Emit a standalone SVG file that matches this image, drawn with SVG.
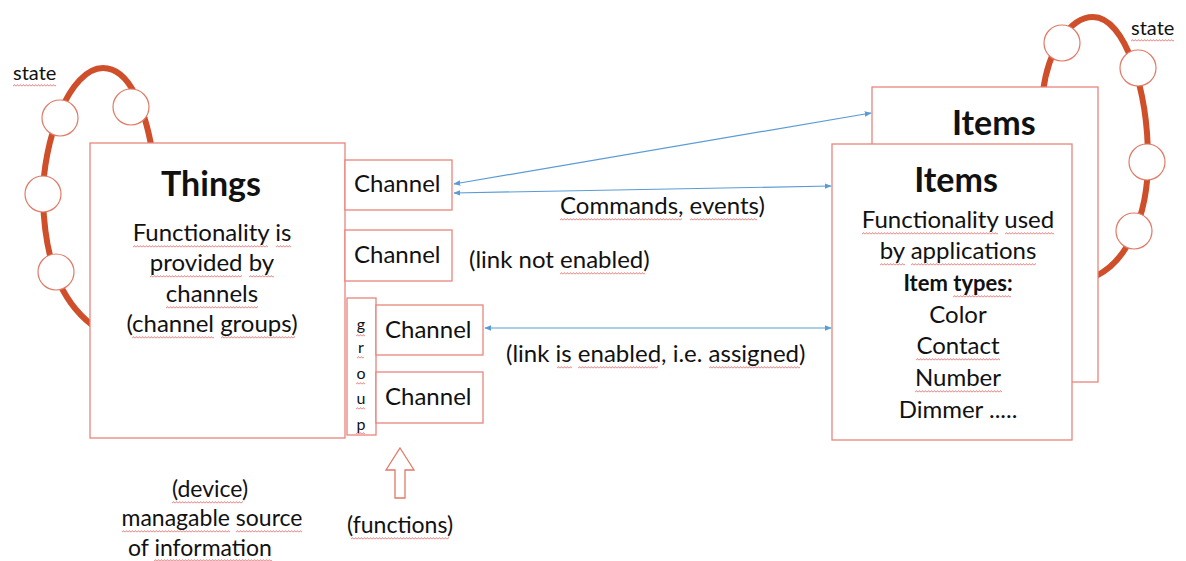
<svg xmlns="http://www.w3.org/2000/svg" width="1186" height="561" viewBox="0 0 1186 561">
  <defs>
    <style>
      text { font-family: Lato, "Liberation Sans", sans-serif; fill: #111; }
      .t { font-size: 24px; }
      .c { text-anchor: middle; }
      .h { font-size: 34px; font-weight: bold; }
      .sq { fill: url(#wavy); }
      .box { fill: #fff; stroke: #e8857a; stroke-width: 1.3; }
      .loop { fill: none; stroke: #cf4f2b; stroke-width: 6; stroke-linecap: round; }
      .dot { fill: #fff; stroke: #e07a66; stroke-width: 1.2; }
      .link { fill: none; stroke: #5b9bd5; stroke-width: 1.2; marker-start: url(#ah); marker-end: url(#ah); }
    </style>
    <marker id="ah" viewBox="0 0 10 10" refX="9" refY="5" markerWidth="7" markerHeight="7" orient="auto-start-reverse" markerUnits="userSpaceOnUse">
      <path d="M0 1 L10 5 L0 9 Z" fill="#5b9bd5"/>
    </marker>
    <!-- zigzag tile for the squiggly word underlines -->
    <pattern id="wavy" width="3" height="3" patternUnits="userSpaceOnUse">
      <path d="M0 2.4 L1.5 0.6 L3 2.4" fill="none" stroke="#e06060" stroke-width="0.8"/>
    </pattern>
  </defs>

  <!-- state loop around Things -->
  <g id="things-state">
    <path class="loop" d="M92 325 C60 300 45 260 43 200 C42 140 70 68 103 68 C130 68 145 110 152 150"/>
    <circle class="dot" cx="60" cy="118" r="18"/>
    <circle class="dot" cx="131" cy="107" r="18"/>
    <circle class="dot" cx="43" cy="194" r="18"/>
    <circle class="dot" cx="56" cy="272" r="18"/>
    <text x="13" y="80" style="font-size:20px">state</text>
    <rect class="sq" transform="translate(13 84)" width="43" height="3"/>
  </g>

  <!-- state loop around Items -->
  <g id="items-state">
    <path class="loop" d="M1043 92 C1048 50 1070 17 1093 17 C1125 17 1148 90 1148 160 C1148 220 1125 262 1096 276"/>
    <circle class="dot" cx="1062" cy="43" r="18"/>
    <circle class="dot" cx="1138" cy="68" r="18"/>
    <circle class="dot" cx="1147" cy="162" r="18"/>
    <circle class="dot" cx="1134" cy="231" r="18"/>
    <text x="1131" y="35" style="font-size:20px">state</text>
    <rect class="sq" transform="translate(1131 39)" width="43" height="3"/>
  </g>

  <!-- Things -->
  <g id="things">
    <rect class="box" x="90" y="143" width="255" height="295"/>
    <text class="h c" x="211" y="196">Things</text>
    <text class="t c" x="212" y="241">Functionality is</text>
    <text class="t c" x="212" y="271">provided by</text>
    <text class="t c" x="212" y="302">channels</text>
    <text class="t c" x="212" y="332">(channel groups)</text>
    <rect class="sq" transform="translate(133 245)" width="135" height="3"/>
    <rect class="sq" transform="translate(276 245)" width="15" height="3"/>
    <rect class="sq" transform="translate(150 275)" width="92" height="3"/>
    <rect class="sq" transform="translate(249 275)" width="25" height="3"/>
    <rect class="sq" transform="translate(166 306)" width="92" height="3"/>
    <rect class="sq" transform="translate(132 336)" width="82" height="3"/>
    <rect class="sq" transform="translate(221 336)" width="74" height="3"/>
  </g>

  <g id="channel-1">
    <rect class="box" x="345" y="160" width="107" height="50"/>
    <text class="t" x="354" y="192">Channel</text>
  </g>
  <g id="channel-2">
    <rect class="box" x="345" y="230" width="107" height="51"/>
    <text class="t" x="354" y="263">Channel</text>
  </g>
  <g id="group">
    <rect class="box" x="347" y="298" width="29" height="137"/>
    <text class="c" x="361" y="330" style="font-size:16px">g</text>
    <text class="c" x="361" y="353" style="font-size:16px">r</text>
    <text class="c" x="361" y="379" style="font-size:16px">o</text>
    <text class="c" x="361" y="404" style="font-size:16px">u</text>
    <text class="c" x="361" y="430" style="font-size:16px">p</text>
    <rect class="sq" transform="translate(356 334)" width="9" height="3"/>
    <rect class="sq" transform="translate(357 356)" width="7" height="3"/>
    <rect class="sq" transform="translate(356 382)" width="9" height="3"/>
    <rect class="sq" transform="translate(356 407)" width="9" height="3"/>
    <rect class="sq" transform="translate(356 432)" width="9" height="2"/>
  </g>
  <g id="channel-3">
    <rect class="box" x="376" y="305" width="107" height="50"/>
    <text class="t" x="385" y="338">Channel</text>
  </g>
  <g id="channel-4">
    <rect class="box" x="376" y="372" width="107" height="51"/>
    <text class="t" x="385" y="405">Channel</text>
  </g>

  <!-- Items (stacked) -->
  <g id="items-back">
    <rect class="box" x="872" y="87" width="226" height="295"/>
    <text class="h" x="952" y="135">Items</text>
  </g>
  <g id="items">
    <rect class="box" x="832" y="144" width="240" height="296"/>
    <text class="h c" x="956" y="192">Items</text>
    <text class="t c" x="958" y="228">Functionality used</text>
    <text class="t c" x="958" y="259">by applications</text>
    <text class="c" x="958" y="291" style="font-size:22px;font-weight:bold">Item types:</text>
    <text class="t c" x="958" y="323">Color</text>
    <text class="t c" x="958" y="354">Contact</text>
    <text class="t c" x="958" y="386">Number</text>
    <text class="t c" x="958" y="418">Dimmer .....</text>
    <rect class="sq" transform="translate(862 232)" width="136" height="3"/>
    <rect class="sq" transform="translate(1005 232)" width="49" height="3"/>
    <rect class="sq" transform="translate(880 263)" width="25" height="3"/>
    <rect class="sq" transform="translate(911 263)" width="125" height="3"/>
    <rect class="sq" transform="translate(953 295)" width="58" height="3"/>
    <rect class="sq" transform="translate(916 358)" width="84" height="3"/>
    <rect class="sq" transform="translate(915 390)" width="87" height="3"/>
  </g>

  <!-- links -->
  <g id="connectors">
    <line class="link" x1="454" y1="184" x2="871" y2="113"/>
    <line class="link" x1="454" y1="193" x2="831" y2="186"/>
    <line class="link" x1="485" y1="328" x2="831" y2="328"/>
    <path d="M400 448 L414 470 L405 470 L405 498 L395 498 L395 470 L386 470 Z" fill="#fff" stroke="#e07a66" stroke-width="1.3"/>
  </g>

  <!-- free labels -->
  <g id="labels">
    <text class="t" x="560" y="214">Commands, events)</text>
    <text class="t" x="469" y="268">(link not enabled)</text>
    <text class="t" x="506" y="362">(link is enabled, i.e. assigned)</text>
    <text class="c" x="210" y="497" style="font-size:23px">(device)</text>
    <text class="c" x="212" y="526" style="font-size:23px">managable source</text>
    <text class="c" x="200" y="556" style="font-size:23px">of information</text>
    <text class="c" x="400" y="533" style="font-size:23px">(functions)</text>
    <rect class="sq" transform="translate(560 218)" width="122" height="3"/>
    <rect class="sq" transform="translate(690 218)" width="67" height="3"/>
    <rect class="sq" transform="translate(560 272)" width="85" height="3"/>
    <rect class="sq" transform="translate(557 366)" width="15" height="3"/>
    <rect class="sq" transform="translate(578 366)" width="80" height="3"/>
    <rect class="sq" transform="translate(709 366)" width="91" height="3"/>
    <rect class="sq" transform="translate(172 501)" width="71" height="3"/>
    <rect class="sq" transform="translate(122 530)" width="108" height="3"/>
    <rect class="sq" transform="translate(236 530)" width="66" height="3"/>
    <rect class="sq" transform="translate(154 559)" width="118" height="2"/>
    <rect class="sq" transform="translate(351 537)" width="98" height="3"/>
  </g>
</svg>
